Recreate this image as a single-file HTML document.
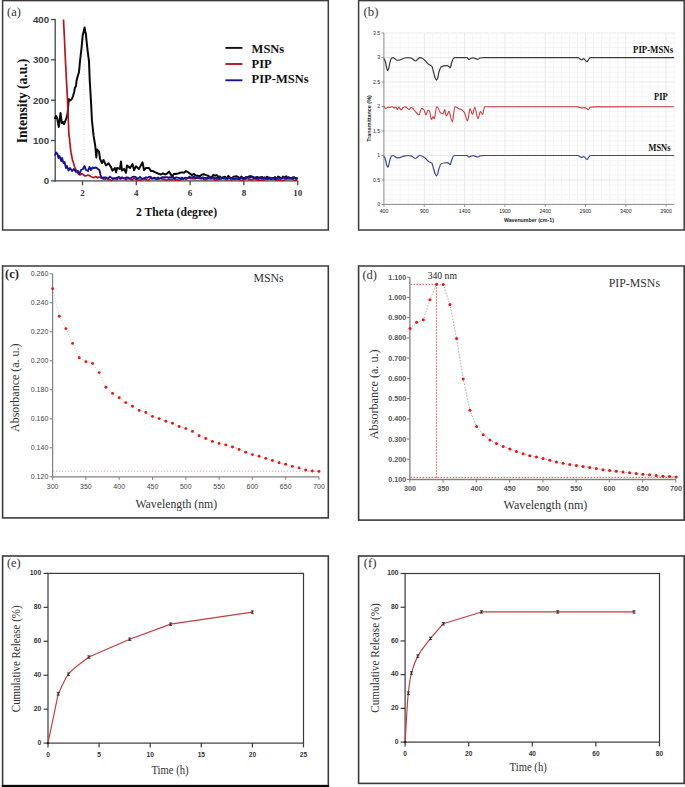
<!DOCTYPE html>
<html><head><meta charset="utf-8"><title>Figure</title>
<style>
html,body{margin:0;padding:0;background:#fff;width:685px;height:787px;overflow:hidden;}
svg{display:block;font-family:"Liberation Serif",serif;}
</style></head><body>
<svg width="685" height="787" viewBox="0 0 685 787">
<rect width="685" height="787" fill="#fff"/>
<rect x="2.6" y="0.6" width="325.7" height="229.4" fill="none" stroke="#3a3a3a" stroke-width="1.5"/>
<rect x="358.6" y="0.6" width="325.6" height="229.4" fill="none" stroke="#3a3a3a" stroke-width="1.5"/>
<rect x="2.6" y="266" width="325.7" height="251.9" fill="none" stroke="#3a3a3a" stroke-width="1.6"/>
<rect x="358.6" y="266" width="325.6" height="254.1" fill="none" stroke="#3a3a3a" stroke-width="1.6"/>
<rect x="2.6" y="556" width="325.7" height="229.6" fill="none" stroke="#3a3a3a" stroke-width="1.6"/>
<rect x="1.8" y="785" width="327.3" height="2" fill="#0a0a0a"/>
<rect x="358.6" y="556" width="325.6" height="227.4" fill="none" stroke="#3a3a3a" stroke-width="1.6"/>
<line x1="3.4" y1="266" x2="327.5" y2="266" stroke="#6e6e6e" stroke-width="1.6" />
<line x1="359.4" y1="266" x2="683.4" y2="266" stroke="#6e6e6e" stroke-width="1.6" />
<text x="7" y="16.1" font-family="&quot;Liberation Serif&quot;, serif" font-size="12.5" font-weight="normal" fill="#333" text-anchor="start" >(a)</text>
<line x1="55.2" y1="19" x2="55.2" y2="181.5" stroke="#444" stroke-width="1.3" />
<line x1="54.6" y1="180.9" x2="297.6" y2="180.9" stroke="#444" stroke-width="1.3" />
<line x1="50.9" y1="180.9" x2="55.2" y2="180.9" stroke="#444" stroke-width="1.3" />
<text x="49.1" y="184.2" font-family="&quot;Liberation Sans&quot;, sans-serif" font-size="9.7" font-weight="bold" fill="#3c3c3c" text-anchor="end" >0</text>
<line x1="50.9" y1="140.55" x2="55.2" y2="140.55" stroke="#444" stroke-width="1.3" />
<text x="49.1" y="143.85" font-family="&quot;Liberation Sans&quot;, sans-serif" font-size="9.7" font-weight="bold" fill="#3c3c3c" text-anchor="end" >100</text>
<line x1="50.9" y1="100.2" x2="55.2" y2="100.2" stroke="#444" stroke-width="1.3" />
<text x="49.1" y="103.5" font-family="&quot;Liberation Sans&quot;, sans-serif" font-size="9.7" font-weight="bold" fill="#3c3c3c" text-anchor="end" >200</text>
<line x1="50.9" y1="59.85" x2="55.2" y2="59.85" stroke="#444" stroke-width="1.3" />
<text x="49.1" y="63.15" font-family="&quot;Liberation Sans&quot;, sans-serif" font-size="9.7" font-weight="bold" fill="#3c3c3c" text-anchor="end" >300</text>
<line x1="50.9" y1="19.5" x2="55.2" y2="19.5" stroke="#444" stroke-width="1.3" />
<text x="49.1" y="22.8" font-family="&quot;Liberation Sans&quot;, sans-serif" font-size="9.7" font-weight="bold" fill="#3c3c3c" text-anchor="end" >400</text>
<line x1="82.5" y1="180.9" x2="82.5" y2="185.2" stroke="#444" stroke-width="1.3" />
<text x="82.5" y="196" font-family="&quot;Liberation Serif&quot;, serif" font-size="9" font-weight="bold" fill="#333" text-anchor="middle" >2</text>
<line x1="136.3" y1="180.9" x2="136.3" y2="185.2" stroke="#444" stroke-width="1.3" />
<text x="136.3" y="196" font-family="&quot;Liberation Serif&quot;, serif" font-size="9" font-weight="bold" fill="#333" text-anchor="middle" >4</text>
<line x1="190.1" y1="180.9" x2="190.1" y2="185.2" stroke="#444" stroke-width="1.3" />
<text x="190.1" y="196" font-family="&quot;Liberation Serif&quot;, serif" font-size="9" font-weight="bold" fill="#333" text-anchor="middle" >6</text>
<line x1="243.9" y1="180.9" x2="243.9" y2="185.2" stroke="#444" stroke-width="1.3" />
<text x="243.9" y="196" font-family="&quot;Liberation Serif&quot;, serif" font-size="9" font-weight="bold" fill="#333" text-anchor="middle" >8</text>
<line x1="297.7" y1="180.9" x2="297.7" y2="185.2" stroke="#444" stroke-width="1.3" />
<text x="297.7" y="196" font-family="&quot;Liberation Serif&quot;, serif" font-size="9" font-weight="bold" fill="#333" text-anchor="middle" >10</text>
<line x1="84.2" y1="19" x2="84.2" y2="180" stroke="#c4cae6" stroke-width="0.7" stroke-dasharray="1,1.5"/>
<polyline points="55,119 56,116 57,117.5 58.8,127 60.5,113 61.8,123 63,122 64,124 65.3,121 66.6,117.5 67.5,114 68.2,106 68.8,99 70,100.5 71.9,99 73,96 74.2,92 74.8,88 76,86 76.5,81 77.8,76 79,72 80,61.4 81.6,47.4 82.7,35.5 83.8,31 84.6,27.4 85.3,32 85.9,33.9 86.5,40.4 87.6,50.6 89,61.4 89.7,79.8 90.8,98.2 92,121 93.6,135.9 95.2,145.5 96.3,157.5 97,149.6 99,151.4 100,158.8 102,163.2 103.5,160 106,165.4 108.5,163.2 111,167.1 112.5,170.6 115,168 116,172.4 117,168 120,168.9 121,161.5 122,170.6 124,168.9 126,172.8 127,165.4 130,168 132.5,164 134,170.2 136,166.3 139,168.9 142.5,162.3 144,170.2 146,168 149,168 151,171.1 153,171.09 155,172.2 158,173.5 161,174.5 163,173.38 165,174.5 167,173.53 169,171.6 172,176.3 174,173.78 176,174 178,173.51 180,172.8 182,172.37 184,172.8 186,171.09 188,172.2 190,173.67 192,175.1 194,173.92 196,175.7 198,175.79 200,176.3 202,174.52 204,174.19 206,175.1 208,175.76 210,176.9 211.67,177.55 213.33,174.9 215,175.7 216.67,175.11 218.33,176.71 220,176.6 221.67,178.18 223.33,177.15 225,176.72 226.67,178.72 228.33,175.9 230,177.5 231.61,178.65 233.21,176.84 234.82,176.38 236.43,176.31 238.04,176.92 239.64,178.55 241.25,176.53 242.86,177.82 244.46,178.01 246.07,177.16 247.68,177.73 249.29,176.19 250.89,176.18 252.5,176.66 254.11,178.18 255.71,177.38 257.32,177.03 258.93,177.9 260.54,177.49 262.14,177 263.75,178.59 265.36,178.29 266.96,176.85 268.57,177.91 270.18,177.76 271.79,178.89 273.39,178.43 275,177.02 276.61,179.24 278.21,176.49 279.82,177.46 281.43,178.55 283.04,176.62 284.64,177.71 286.25,176.28 287.86,178.3 289.46,178.61 291.07,178.01 292.68,178.98 294.29,177.19 295.89,178.42 297.5,177.8" fill="none" stroke="#0a0a0a" stroke-width="2" stroke-linejoin="round"/>
<polyline points="63.5,19.5 64.5,40 65.5,62 66.5,82 67.3,96 68,112 68.9,135 69.5,138.5 70.2,146 71,152.7 72.5,160 73.5,163 74.5,166.5 76,170 77,172 78,173.5 80,175 82,173.5 83.5,174.98 85,176 86.5,175.69 88,175 90,175.89 92,177 94,177.57 96,176.5 97.5,177.82 99,177 100.5,177.54 102,178.2 103.5,179.09 105,179.2 106.5,178.15 108.01,179.69 109.51,179.56 111.02,180.3 112.52,179.98 114.02,178.69 115.53,178.94 117.03,179.62 118.54,178.07 120.04,179.12 121.54,178.42 123.05,178.3 124.55,178.16 126.05,179.87 127.56,178.33 129.06,178.62 130.57,178.96 132.07,180.12 133.57,178.22 135.08,179.11 136.58,179.35 138.09,180.15 139.59,180 141.09,180.11 142.6,178.71 144.1,179.04 145.61,178.9 147.11,180.17 148.61,180.3 150.12,178.41 151.62,178.47 153.12,178.61 154.63,178.61 156.13,179.22 157.64,179.47 159.14,178.69 160.64,178.07 162.15,179.06 163.65,178.95 165.16,179.42 166.66,180.3 168.16,179.72 169.67,179.3 171.17,179.55 172.68,179.69 174.18,178.2 175.68,180.23 177.19,179.95 178.69,180.18 180.2,179.99 181.7,179.02 183.2,179.04 184.71,178.33 186.21,179.61 187.71,178.24 189.22,178.25 190.72,178.59 192.23,178.48 193.73,178.91 195.23,178.22 196.74,178.1 198.24,178.46 199.75,178.34 201.25,178.97 202.75,178.16 204.26,180.2 205.76,179.58 207.27,178.46 208.77,178.71 210.27,178.94 211.78,178.98 213.28,178.41 214.79,180.15 216.29,180.3 217.79,179.24 219.3,179.28 220.8,178.33 222.3,178.37 223.81,178.95 225.31,178.76 226.82,180.12 228.32,178.52 229.82,178.19 231.33,180.3 232.83,179.4 234.34,178.49 235.84,179.44 237.34,178.2 238.85,179.41 240.35,180.3 241.86,180.21 243.36,179.81 244.86,178.77 246.37,179.03 247.87,178.55 249.38,180 250.88,179.43 252.38,180.02 253.89,178.95 255.39,178.69 256.89,180.11 258.4,180.3 259.9,180.21 261.41,180.1 262.91,180.13 264.41,179.94 265.92,178.71 267.42,179.41 268.93,179.02 270.43,178.24 271.93,178.24 273.44,178.85 274.94,178.8 276.45,179.84 277.95,180.3 279.45,179.25 280.96,180.3 282.46,180.3 283.96,180.3 285.47,179.06 286.97,178.72 288.48,178.74 289.98,178.66 291.48,178.68 292.99,179.69 294.49,180.3 296,180.22 297.5,179.4" fill="none" stroke="#b8141c" stroke-width="1.7" stroke-linejoin="round"/>
<polyline points="55,155.5 56,152.5 57.5,154 58.5,158 59.5,156 61.2,161 62,158 63.5,163 64.5,162 66,168 67,166 68.5,170.5 70,168 72,171 74,169 76,172 78,171 79.4,174 81,170 83,169 84.5,166 86,170 88,171 89.5,167 91,170 92.5,167.5 94,168 96,167.5 98,169 99.5,170 100.5,175 101.7,178 104,177.5 105.5,177.46 107,177.85 108.5,178.18 110,176.61 111.5,177.88 113,178.43 114.5,178.16 116,178.09 117.5,177.5 119,176.85 120.5,178.2 122,177.2 123.5,178.23 125,178.61 126.5,177.35 128,177.37 129.5,178.58 131,178.09 132.5,176.88 134,176.79 135.5,176.85 137,178.51 138.5,178.3 140,176.85 141.5,178.35 143,178.7 144.5,177.99 146,177.32 147.5,177.76 149,176.85 150.5,176.6 152,178.71 153.5,178.01 155,177.74 156.5,178.64 158,177.55 159.5,178.52 161,178.42 162.5,177.08 164,177.17 165.5,177.27 167,177.16 168.5,177.92 170,177.21 171.5,177.57 173,176.94 174.5,178.66 176,177.44 177.5,177.67 179,177.95 180.5,178.67 182,177.61 183.5,178.71 185,177.8 186.5,177.87 188,177.86 189.5,176.75 191,177.68 192.5,177.12 194,176.73 195.5,178.49 197,177.12 198.5,177.78 200,178.34 201.5,177.98 203,177.48 204.5,177.9 206,177.99 207.5,178.5 209,177.01 210.5,178.02 212,177.34 213.5,177.41 215,178.5 216.5,177.92 218,178.05 219.5,178.49 221,178.83 222.5,177.8 224,178.18 225.5,177.95 227,177.97 228.5,178.37 230,177.85 231.5,178.03 233,177.92 234.5,178.94 236,178.42 237.5,178.81 239,178.96 240.5,177.46 242,178.13 243.5,178.98 245,178.76 246.5,177.22 248,177.19 249.5,177.9 251,177.09 252.5,177.47 254,177.1 255.5,178.42 257,178.68 258.5,178.93 260,177.3 261.5,178.55 263,178.43 264.5,177.3 266,178.93 267.5,179.12 269,177.48 270.5,179.1 272,177.88 273.5,178.09 275,179.2 276.5,178.86 278,177.38 279.5,177.98 281,178.17 282.5,177.79 284,177.48 285.5,177.76 287,178.65 288.5,177.11 290,178.29 291.5,178.05 293,177.12 294.5,177.82 296,178.47 297.5,178.2" fill="none" stroke="#14149a" stroke-width="1.9" stroke-linejoin="round"/>
<line x1="225.4" y1="47.9" x2="242.4" y2="47.9" stroke="#111" stroke-width="1.9" />
<text x="251.6" y="53.3" font-family="&quot;Liberation Serif&quot;, serif" font-size="12.5" font-weight="bold" fill="#111" text-anchor="start" >MSNs</text>
<line x1="225.4" y1="64" x2="242.4" y2="64" stroke="#b8141c" stroke-width="1.9" />
<text x="251.6" y="67.9" font-family="&quot;Liberation Serif&quot;, serif" font-size="12.5" font-weight="bold" fill="#111" text-anchor="start" >PIP</text>
<line x1="225.4" y1="80.3" x2="242.4" y2="80.3" stroke="#14149a" stroke-width="1.9" />
<text x="251.6" y="83.3" font-family="&quot;Liberation Serif&quot;, serif" font-size="12.5" font-weight="bold" fill="#111" text-anchor="start" >PIP-MSNs</text>
<text transform="translate(27.3,101.1) rotate(-90)" font-family="&quot;Liberation Serif&quot;, serif" font-size="14" font-weight="bold" fill="#111" text-anchor="middle" textLength="84.5" lengthAdjust="spacingAndGlyphs">Intensity (a.u.)</text>
<text x="136.1" y="215.7" font-family="&quot;Liberation Serif&quot;, serif" font-size="11.8" font-weight="bold" fill="#111" text-anchor="start" textLength="81" lengthAdjust="spacingAndGlyphs" >2 Theta (degree)</text>
<text x="363.5" y="16.3" font-family="&quot;Liberation Serif&quot;, serif" font-size="12.8" font-weight="normal" fill="#333" text-anchor="start" >(b)</text>
<path d="M392.06 33.1V204.5M400.12 33.1V204.5M408.18 33.1V204.5M416.24 33.1V204.5M432.36 33.1V204.5M440.42 33.1V204.5M448.48 33.1V204.5M456.54 33.1V204.5M472.66 33.1V204.5M480.72 33.1V204.5M488.78 33.1V204.5M496.84 33.1V204.5M512.96 33.1V204.5M521.02 33.1V204.5M529.08 33.1V204.5M537.14 33.1V204.5M553.26 33.1V204.5M561.32 33.1V204.5M569.38 33.1V204.5M577.44 33.1V204.5M593.56 33.1V204.5M601.62 33.1V204.5M609.68 33.1V204.5M617.74 33.1V204.5M633.86 33.1V204.5M641.92 33.1V204.5M649.98 33.1V204.5M658.04 33.1V204.5M674.16 33.1V204.5M384 199.6H674.2M384 194.7H674.2M384 189.8H674.2M384 184.9H674.2M384 175.1H674.2M384 170.2H674.2M384 165.3H674.2M384 160.4H674.2M384 150.6H674.2M384 145.7H674.2M384 140.8H674.2M384 135.9H674.2M384 126.1H674.2M384 121.2H674.2M384 116.3H674.2M384 111.4H674.2M384 101.6H674.2M384 96.7H674.2M384 91.8H674.2M384 86.9H674.2M384 77.1H674.2M384 72.2H674.2M384 67.3H674.2M384 62.4H674.2M384 52.6H674.2M384 47.7H674.2M384 42.8H674.2M384 37.9H674.2" stroke="#f2f2f2" stroke-width="0.8" fill="none"/>
<path d="M424.3 33.1V204.5M464.6 33.1V204.5M504.9 33.1V204.5M545.2 33.1V204.5M585.5 33.1V204.5M625.8 33.1V204.5M666.1 33.1V204.5M384 180H674.2M384 155.5H674.2M384 131H674.2M384 106.5H674.2M384 82H674.2M384 57.5H674.2M384 33H674.2" stroke="#e6e6e6" stroke-width="0.9" fill="none"/>
<line x1="383.9" y1="33.1" x2="383.9" y2="204.5" stroke="#8a8a8a" stroke-width="1" />
<line x1="384" y1="204.4" x2="674.2" y2="204.4" stroke="#8a8a8a" stroke-width="1" />
<line x1="381.5" y1="204.5" x2="384" y2="204.5" stroke="#808080" stroke-width="0.9" />
<text x="380.2" y="206.3" font-family="&quot;Liberation Sans&quot;, sans-serif" font-size="5.2" font-weight="normal" fill="#1a1a1a" text-anchor="end" >0</text>
<line x1="381.5" y1="180" x2="384" y2="180" stroke="#808080" stroke-width="0.9" />
<text x="380.2" y="181.8" font-family="&quot;Liberation Sans&quot;, sans-serif" font-size="5.2" font-weight="normal" fill="#1a1a1a" text-anchor="end" >0.5</text>
<line x1="381.5" y1="155.5" x2="384" y2="155.5" stroke="#808080" stroke-width="0.9" />
<text x="380.2" y="157.3" font-family="&quot;Liberation Sans&quot;, sans-serif" font-size="5.2" font-weight="normal" fill="#1a1a1a" text-anchor="end" >1</text>
<line x1="381.5" y1="131" x2="384" y2="131" stroke="#808080" stroke-width="0.9" />
<text x="380.2" y="132.8" font-family="&quot;Liberation Sans&quot;, sans-serif" font-size="5.2" font-weight="normal" fill="#1a1a1a" text-anchor="end" >1.5</text>
<line x1="381.5" y1="106.5" x2="384" y2="106.5" stroke="#808080" stroke-width="0.9" />
<text x="380.2" y="108.3" font-family="&quot;Liberation Sans&quot;, sans-serif" font-size="5.2" font-weight="normal" fill="#1a1a1a" text-anchor="end" >2</text>
<line x1="381.5" y1="82" x2="384" y2="82" stroke="#808080" stroke-width="0.9" />
<text x="380.2" y="83.8" font-family="&quot;Liberation Sans&quot;, sans-serif" font-size="5.2" font-weight="normal" fill="#1a1a1a" text-anchor="end" >2.5</text>
<line x1="381.5" y1="57.5" x2="384" y2="57.5" stroke="#808080" stroke-width="0.9" />
<text x="380.2" y="59.3" font-family="&quot;Liberation Sans&quot;, sans-serif" font-size="5.2" font-weight="normal" fill="#1a1a1a" text-anchor="end" >3</text>
<line x1="381.5" y1="33" x2="384" y2="33" stroke="#808080" stroke-width="0.9" />
<text x="380.2" y="34.8" font-family="&quot;Liberation Sans&quot;, sans-serif" font-size="5.2" font-weight="normal" fill="#1a1a1a" text-anchor="end" >3.5</text>
<line x1="384" y1="204.5" x2="384" y2="206.7" stroke="#808080" stroke-width="0.9" />
<text x="384" y="213.2" font-family="&quot;Liberation Sans&quot;, sans-serif" font-size="5.2" font-weight="normal" fill="#1a1a1a" text-anchor="middle" >400</text>
<line x1="424.3" y1="204.5" x2="424.3" y2="206.7" stroke="#808080" stroke-width="0.9" />
<text x="424.3" y="213.2" font-family="&quot;Liberation Sans&quot;, sans-serif" font-size="5.2" font-weight="normal" fill="#1a1a1a" text-anchor="middle" >900</text>
<line x1="464.6" y1="204.5" x2="464.6" y2="206.7" stroke="#808080" stroke-width="0.9" />
<text x="464.6" y="213.2" font-family="&quot;Liberation Sans&quot;, sans-serif" font-size="5.2" font-weight="normal" fill="#1a1a1a" text-anchor="middle" >1400</text>
<line x1="504.9" y1="204.5" x2="504.9" y2="206.7" stroke="#808080" stroke-width="0.9" />
<text x="504.9" y="213.2" font-family="&quot;Liberation Sans&quot;, sans-serif" font-size="5.2" font-weight="normal" fill="#1a1a1a" text-anchor="middle" >1900</text>
<line x1="545.2" y1="204.5" x2="545.2" y2="206.7" stroke="#808080" stroke-width="0.9" />
<text x="545.2" y="213.2" font-family="&quot;Liberation Sans&quot;, sans-serif" font-size="5.2" font-weight="normal" fill="#1a1a1a" text-anchor="middle" >2400</text>
<line x1="585.5" y1="204.5" x2="585.5" y2="206.7" stroke="#808080" stroke-width="0.9" />
<text x="585.5" y="213.2" font-family="&quot;Liberation Sans&quot;, sans-serif" font-size="5.2" font-weight="normal" fill="#1a1a1a" text-anchor="middle" >2900</text>
<line x1="625.8" y1="204.5" x2="625.8" y2="206.7" stroke="#808080" stroke-width="0.9" />
<text x="625.8" y="213.2" font-family="&quot;Liberation Sans&quot;, sans-serif" font-size="5.2" font-weight="normal" fill="#1a1a1a" text-anchor="middle" >3400</text>
<line x1="666.1" y1="204.5" x2="666.1" y2="206.7" stroke="#808080" stroke-width="0.9" />
<text x="666.1" y="213.2" font-family="&quot;Liberation Sans&quot;, sans-serif" font-size="5.2" font-weight="normal" fill="#1a1a1a" text-anchor="middle" >3900</text>
<text x="528.9" y="221.8" font-family="&quot;Liberation Sans&quot;, sans-serif" font-size="5.6" font-weight="bold" fill="#1a1a1a" text-anchor="middle" textLength="50" lengthAdjust="spacingAndGlyphs" >Wavenumber (cm-1)</text>
<text transform="translate(371.2,118.5) rotate(-90)" font-family="&quot;Liberation Sans&quot;, sans-serif" font-size="5.6" font-weight="bold" fill="#1a1a1a" text-anchor="middle" textLength="46.5" lengthAdjust="spacingAndGlyphs">Transmittance (%)</text>
<path d="M384 58.58C384.5 59.75 385 60.47 385.5 62.1C385.87 63.29 386.23 66.24 386.6 67.6C386.93 68.84 387.27 70.57 387.6 70.57C387.93 70.57 388.27 69.57 388.6 68.7C389.07 67.48 389.53 63.66 390 62.1C390.5 60.43 391 58.57 391.5 58.25C392 57.93 392.5 57.7 393 57.7C393.67 57.7 394.33 58.39 395 58.8C395.67 59.21 396.33 60.23 397 60.23C397.67 60.23 398.33 60.18 399 60.12C400 60.03 401 59.37 402 59.02C403 58.67 404 58.2 405 58.03C406 57.87 407 57.7 408 57.7C409 57.7 410 57.83 411 58.03C411.67 58.16 412.33 58.91 413 59.35C413.83 59.9 414.67 61 415.5 61C416.17 61 416.83 59.84 417.5 59.35C418.33 58.74 419.17 57.7 420 57.7C420.67 57.7 421.33 57.99 422 58.25C423 58.64 424 59.57 425 60.45C426 61.33 427 62.93 428 63.75C428.83 64.43 429.67 64.82 430.5 65.4C431 65.75 431.5 65.89 432 66.5C432.5 67.11 433 70.17 433.5 72C434 73.83 434.5 76.24 435 77.5C435.43 78.59 435.87 80.03 436.3 80.03C436.7 80.03 437.1 79.33 437.5 78.6C438 77.68 438.5 73.61 439 72C439.67 69.86 440.33 67.5 441 67.05C442 66.38 443 66.12 444 65.95C445 65.78 446 65.62 447 65.62C447.67 65.62 448.33 66.08 449 66.5C449.43 66.77 449.87 67.82 450.3 67.82C450.7 67.82 451.1 64.43 451.5 63.2C452.17 61.15 452.83 58.66 453.5 58.25C454 57.94 454.5 57.7 455 57.7C459 57.7 463 57.7 467 57.7C467.67 57.7 468.33 59.35 469 59.35C469.67 59.35 470.33 58.56 471 58.36C471.67 58.16 472.33 57.92 473 57.92C474.67 57.92 476.33 59.35 478 59.35C478.67 59.35 479.33 58.14 480 58.03C481.33 57.82 482.67 57.7 484 57.7C515.33 57.7 546.67 57.7 578 57.7C578.67 57.7 579.33 58.57 580 58.9C580.63 59.21 581.27 59.7 581.9 59.7C582.43 59.7 582.97 58.7 583.5 58.7C584.1 58.7 584.7 59.59 585.3 60.1C585.87 60.58 586.43 61.7 587 61.7C587.6 61.7 588.2 59.96 588.8 59.3C589.37 58.68 589.93 57.7 590.5 57.7C618.4 57.7 646.3 57.7 674.2 57.7" fill="none" stroke="#3a3a3a" stroke-width="1.2" stroke-linejoin="round"/>
<path d="M384 156.3C384.5 157.37 385 158.02 385.5 159.5C385.87 160.58 386.23 163.26 386.6 164.5C386.93 165.62 387.27 167.2 387.6 167.2C387.93 167.2 388.27 166.29 388.6 165.5C389.07 164.39 389.53 160.91 390 159.5C390.5 157.98 391 156.29 391.5 156C392 155.71 392.5 155.5 393 155.5C393.67 155.5 394.33 156.12 395 156.5C395.67 156.88 396.33 157.8 397 157.8C397.67 157.8 398.33 157.76 399 157.7C400 157.62 401 157.02 402 156.7C403 156.38 404 155.95 405 155.8C406 155.65 407 155.5 408 155.5C409 155.5 410 155.62 411 155.8C411.67 155.92 412.33 156.6 413 157C413.83 157.5 414.67 158.5 415.5 158.5C416.17 158.5 416.83 157.45 417.5 157C418.33 156.44 419.17 155.5 420 155.5C420.67 155.5 421.33 155.76 422 156C423 156.35 424 157.2 425 158C426 158.8 427 160.26 428 161C428.83 161.62 429.67 161.97 430.5 162.5C431 162.82 431.5 162.94 432 163.5C432.5 164.06 433 166.83 433.5 168.5C434 170.17 434.5 172.35 435 173.5C435.43 174.49 435.87 175.8 436.3 175.8C436.7 175.8 437.1 175.17 437.5 174.5C438 173.67 438.5 169.96 439 168.5C439.67 166.55 440.33 164.41 441 164C442 163.39 443 163.15 444 163C445 162.85 446 162.7 447 162.7C447.67 162.7 448.33 163.12 449 163.5C449.43 163.75 449.87 164.7 450.3 164.7C450.7 164.7 451.1 161.62 451.5 160.5C452.17 158.64 452.83 156.37 453.5 156C454 155.72 454.5 155.5 455 155.5C459 155.5 463 155.5 467 155.5C467.67 155.5 468.33 157 469 157C469.67 157 470.33 156.28 471 156.1C471.67 155.92 472.33 155.7 473 155.7C474.67 155.7 476.33 157 478 157C478.67 157 479.33 155.9 480 155.8C481.33 155.61 482.67 155.5 484 155.5C515.33 155.5 546.67 155.5 578 155.5C578.67 155.5 579.33 156.37 580 156.7C580.63 157.01 581.27 157.5 581.9 157.5C582.43 157.5 582.97 156.5 583.5 156.5C584.1 156.5 584.7 157.39 585.3 157.9C585.87 158.38 586.43 159.5 587 159.5C587.6 159.5 588.2 157.76 588.8 157.1C589.37 156.48 589.93 155.5 590.5 155.5C618.4 155.5 646.3 155.5 674.2 155.5" fill="none" stroke="#3c4c94" stroke-width="1.2" stroke-linejoin="round"/>
<path d="M384 106.7C384.67 107.3 385.33 108.5 386 108.5C386.67 108.5 387.33 107 388 107C388.67 107 389.33 107.5 390 107.5C390.67 107.5 391.33 106.5 392 106.5C392.67 106.5 393.33 108 394 108C394.67 108 395.33 107 396 107C396.5 107 397 109.5 397.5 109.5C398 109.5 398.5 107 399 107C399.67 107 400.33 110 401 110C401.67 110 402.33 107.9 403 107.5C403.67 107.1 404.33 106.7 405 106.7C405.67 106.7 406.33 107.54 407 108C407.67 108.46 408.33 109.5 409 109.5C409.67 109.5 410.33 107.5 411 107.5C411.67 107.5 412.33 107.97 413 108.5C413.33 108.76 413.67 109.56 414 110C414.73 110.96 415.47 111.79 416.2 112.5C417.17 113.43 418.13 114.9 419.1 114.9C419.9 114.9 420.7 108.4 421.5 108.4C422.27 108.4 423.03 108.95 423.8 109.6C424.57 110.25 425.33 114.9 426.1 114.9C426.7 114.9 427.3 110.2 427.9 110.2C428.47 110.2 429.03 110.71 429.6 111.4C430.2 112.13 430.8 119.5 431.4 119.5C431.97 119.5 432.53 116.6 433.1 116.6C433.5 116.6 433.9 118.9 434.3 118.9C435.07 118.9 435.83 106.7 436.6 106.7C437.07 106.7 437.53 107.44 438 108C438.9 109.08 439.8 112.71 440.7 113.1C441.5 113.45 442.3 113.7 443.1 113.7C443.67 113.7 444.23 109.6 444.8 109.6C445.2 109.6 445.6 115.9 446 115.9C446.4 115.9 446.8 115.36 447.2 114.9C447.77 114.24 448.33 111.4 448.9 111.4C450.07 111.4 451.23 121.9 452.4 121.9C453.2 121.9 454 106.7 454.8 106.7C455.53 106.7 456.27 107.16 457 107.5C457.8 107.87 458.6 108.74 459.4 109C459.83 109.14 460.27 109.16 460.7 109.3C461.9 109.7 463.1 110.77 464.3 112.3C465.4 113.7 466.5 121 467.6 121C468.4 121 469.2 108.6 470 108.6C470.83 108.6 471.67 114.5 472.5 114.5C473.27 114.5 474.03 107.2 474.8 107.2C475.87 107.2 476.93 118.8 478 118.8C478.8 118.8 479.6 111.5 480.4 111.5C481.1 111.5 481.8 114.5 482.5 114.5C483.23 114.5 483.97 106.8 484.7 106.8C485.47 106.8 486.23 106.8 487 106.8C501.33 106.8 515.67 106.8 530 106.8C545 106.8 560 106.8 575 106.8C576 106.8 577 106.84 578 106.9C579.3 106.97 580.6 107.9 581.9 107.9C582.6 107.9 583.3 107.6 584 107.6C584.83 107.6 585.67 107.93 586.5 108.3C587.1 108.56 587.7 109.9 588.3 109.9C588.87 109.9 589.43 107.4 590 107.3C591.67 107 593.33 106.91 595 106.9C621.4 106.72 647.8 106.77 674.2 106.7" fill="none" stroke="#d0383c" stroke-width="1.1" stroke-linejoin="round"/>
<text x="673.1" y="53.3" font-family="&quot;Liberation Serif&quot;, serif" font-size="9.6" font-weight="bold" fill="#111" text-anchor="end" textLength="40.1" lengthAdjust="spacingAndGlyphs" >PIP-MSNs</text>
<text x="667.7" y="100.4" font-family="&quot;Liberation Serif&quot;, serif" font-size="9.6" font-weight="bold" fill="#111" text-anchor="end" textLength="13.7" lengthAdjust="spacingAndGlyphs" >PIP</text>
<text x="670.4" y="150.9" font-family="&quot;Liberation Serif&quot;, serif" font-size="9.6" font-weight="bold" fill="#111" text-anchor="end" textLength="21.9" lengthAdjust="spacingAndGlyphs" >MSNs</text>
<text x="5" y="278" font-family="&quot;Liberation Serif&quot;, serif" font-size="12.5" font-weight="bold" fill="#222" text-anchor="start" >(c)</text>
<line x1="52.6" y1="273.8" x2="52.6" y2="477.3" stroke="#808080" stroke-width="1.2" />
<line x1="52.1" y1="476.8" x2="319" y2="476.8" stroke="#808080" stroke-width="1.2" />
<line x1="49.6" y1="476.8" x2="52.6" y2="476.8" stroke="#808080" stroke-width="1" />
<text x="48.3" y="479.3" font-family="&quot;Liberation Sans&quot;, sans-serif" font-size="7" font-weight="normal" fill="#444" text-anchor="end" >0.120</text>
<line x1="49.6" y1="447.8" x2="52.6" y2="447.8" stroke="#808080" stroke-width="1" />
<text x="48.3" y="450.3" font-family="&quot;Liberation Sans&quot;, sans-serif" font-size="7" font-weight="normal" fill="#444" text-anchor="end" >0.140</text>
<line x1="49.6" y1="418.8" x2="52.6" y2="418.8" stroke="#808080" stroke-width="1" />
<text x="48.3" y="421.3" font-family="&quot;Liberation Sans&quot;, sans-serif" font-size="7" font-weight="normal" fill="#444" text-anchor="end" >0.160</text>
<line x1="49.6" y1="389.8" x2="52.6" y2="389.8" stroke="#808080" stroke-width="1" />
<text x="48.3" y="392.3" font-family="&quot;Liberation Sans&quot;, sans-serif" font-size="7" font-weight="normal" fill="#444" text-anchor="end" >0.180</text>
<line x1="49.6" y1="360.8" x2="52.6" y2="360.8" stroke="#808080" stroke-width="1" />
<text x="48.3" y="363.3" font-family="&quot;Liberation Sans&quot;, sans-serif" font-size="7" font-weight="normal" fill="#444" text-anchor="end" >0.200</text>
<line x1="49.6" y1="331.8" x2="52.6" y2="331.8" stroke="#808080" stroke-width="1" />
<text x="48.3" y="334.3" font-family="&quot;Liberation Sans&quot;, sans-serif" font-size="7" font-weight="normal" fill="#444" text-anchor="end" >0.220</text>
<line x1="49.6" y1="302.8" x2="52.6" y2="302.8" stroke="#808080" stroke-width="1" />
<text x="48.3" y="305.3" font-family="&quot;Liberation Sans&quot;, sans-serif" font-size="7" font-weight="normal" fill="#444" text-anchor="end" >0.240</text>
<line x1="49.6" y1="273.8" x2="52.6" y2="273.8" stroke="#808080" stroke-width="1" />
<text x="48.3" y="276.3" font-family="&quot;Liberation Sans&quot;, sans-serif" font-size="7" font-weight="normal" fill="#444" text-anchor="end" >0.260</text>
<line x1="52.6" y1="476.8" x2="52.6" y2="479.8" stroke="#808080" stroke-width="1" />
<text x="52.6" y="488.6" font-family="&quot;Liberation Sans&quot;, sans-serif" font-size="7" font-weight="normal" fill="#444" text-anchor="middle" >300</text>
<line x1="85.9" y1="476.8" x2="85.9" y2="479.8" stroke="#808080" stroke-width="1" />
<text x="85.9" y="488.6" font-family="&quot;Liberation Sans&quot;, sans-serif" font-size="7" font-weight="normal" fill="#444" text-anchor="middle" >350</text>
<line x1="119.2" y1="476.8" x2="119.2" y2="479.8" stroke="#808080" stroke-width="1" />
<text x="119.2" y="488.6" font-family="&quot;Liberation Sans&quot;, sans-serif" font-size="7" font-weight="normal" fill="#444" text-anchor="middle" >400</text>
<line x1="152.5" y1="476.8" x2="152.5" y2="479.8" stroke="#808080" stroke-width="1" />
<text x="152.5" y="488.6" font-family="&quot;Liberation Sans&quot;, sans-serif" font-size="7" font-weight="normal" fill="#444" text-anchor="middle" >450</text>
<line x1="185.8" y1="476.8" x2="185.8" y2="479.8" stroke="#808080" stroke-width="1" />
<text x="185.8" y="488.6" font-family="&quot;Liberation Sans&quot;, sans-serif" font-size="7" font-weight="normal" fill="#444" text-anchor="middle" >500</text>
<line x1="219.1" y1="476.8" x2="219.1" y2="479.8" stroke="#808080" stroke-width="1" />
<text x="219.1" y="488.6" font-family="&quot;Liberation Sans&quot;, sans-serif" font-size="7" font-weight="normal" fill="#444" text-anchor="middle" >550</text>
<line x1="252.4" y1="476.8" x2="252.4" y2="479.8" stroke="#808080" stroke-width="1" />
<text x="252.4" y="488.6" font-family="&quot;Liberation Sans&quot;, sans-serif" font-size="7" font-weight="normal" fill="#444" text-anchor="middle" >600</text>
<line x1="285.7" y1="476.8" x2="285.7" y2="479.8" stroke="#808080" stroke-width="1" />
<text x="285.7" y="488.6" font-family="&quot;Liberation Sans&quot;, sans-serif" font-size="7" font-weight="normal" fill="#444" text-anchor="middle" >650</text>
<line x1="319" y1="476.8" x2="319" y2="479.8" stroke="#808080" stroke-width="1" />
<text x="319" y="488.6" font-family="&quot;Liberation Sans&quot;, sans-serif" font-size="7" font-weight="normal" fill="#444" text-anchor="middle" >700</text>
<text x="135.4" y="507.7" font-family="&quot;Liberation Serif&quot;, serif" font-size="13.4" font-weight="normal" fill="#333" text-anchor="start" textLength="81.8" lengthAdjust="spacingAndGlyphs" >Wavelength (nm)</text>
<text transform="translate(18.9,387.7) rotate(-90)" font-family="&quot;Liberation Serif&quot;, serif" font-size="13.2" font-weight="normal" fill="#333" text-anchor="middle" textLength="88.6" lengthAdjust="spacingAndGlyphs">Absorbance (a. u.)</text>
<text x="253.4" y="281.5" font-family="&quot;Liberation Serif&quot;, serif" font-size="12" font-weight="normal" fill="#333" text-anchor="start" textLength="30.3" lengthAdjust="spacingAndGlyphs" >MSNs</text>
<line x1="53" y1="471.2" x2="319" y2="471.2" stroke="#f08080" stroke-width="0.8" stroke-dasharray="1.2,1.8"/>
<polyline points="52.6,288.8 59.26,316.2 65.92,328.6 72.58,343.4 79.24,357.7 85.9,361.7 92.56,363.4 99.22,372.6 105.88,387.3 112.54,393.4 119.2,397.7 125.86,402.6 132.52,406.3 139.18,410.4 145.84,412.4 152.5,416.4 159.16,418.6 165.82,421.2 172.48,423.2 179.14,426.5 185.8,428.6 192.46,431.4 199.12,435.7 205.78,438.5 212.44,441.4 219.1,443.4 225.76,444.9 232.42,447 239.08,449.5 245.74,452.3 252.4,454.6 259.06,456.3 265.72,458.4 272.38,460.4 279.04,462.8 285.7,464.2 292.36,466.4 299.02,467.9 305.68,470 312.34,471 319,471.4" fill="none" stroke="#b4b4b4" stroke-width="0.6" stroke-dasharray="1.5,1.5"/>
<g fill="#ee1111"><circle cx="52.6" cy="288.8" r="1.45"/><circle cx="59.26" cy="316.2" r="1.45"/><circle cx="65.92" cy="328.6" r="1.45"/><circle cx="72.58" cy="343.4" r="1.45"/><circle cx="79.24" cy="357.7" r="1.45"/><circle cx="85.9" cy="361.7" r="1.45"/><circle cx="92.56" cy="363.4" r="1.45"/><circle cx="99.22" cy="372.6" r="1.45"/><circle cx="105.88" cy="387.3" r="1.45"/><circle cx="112.54" cy="393.4" r="1.45"/><circle cx="119.2" cy="397.7" r="1.45"/><circle cx="125.86" cy="402.6" r="1.45"/><circle cx="132.52" cy="406.3" r="1.45"/><circle cx="139.18" cy="410.4" r="1.45"/><circle cx="145.84" cy="412.4" r="1.45"/><circle cx="152.5" cy="416.4" r="1.45"/><circle cx="159.16" cy="418.6" r="1.45"/><circle cx="165.82" cy="421.2" r="1.45"/><circle cx="172.48" cy="423.2" r="1.45"/><circle cx="179.14" cy="426.5" r="1.45"/><circle cx="185.8" cy="428.6" r="1.45"/><circle cx="192.46" cy="431.4" r="1.45"/><circle cx="199.12" cy="435.7" r="1.45"/><circle cx="205.78" cy="438.5" r="1.45"/><circle cx="212.44" cy="441.4" r="1.45"/><circle cx="219.1" cy="443.4" r="1.45"/><circle cx="225.76" cy="444.9" r="1.45"/><circle cx="232.42" cy="447" r="1.45"/><circle cx="239.08" cy="449.5" r="1.45"/><circle cx="245.74" cy="452.3" r="1.45"/><circle cx="252.4" cy="454.6" r="1.45"/><circle cx="259.06" cy="456.3" r="1.45"/><circle cx="265.72" cy="458.4" r="1.45"/><circle cx="272.38" cy="460.4" r="1.45"/><circle cx="279.04" cy="462.8" r="1.45"/><circle cx="285.7" cy="464.2" r="1.45"/><circle cx="292.36" cy="466.4" r="1.45"/><circle cx="299.02" cy="467.9" r="1.45"/><circle cx="305.68" cy="470" r="1.45"/><circle cx="312.34" cy="471" r="1.45"/><circle cx="319" cy="471.4" r="1.45"/></g>
<text x="362.4" y="278.5" font-family="&quot;Liberation Serif&quot;, serif" font-size="12.5" font-weight="normal" fill="#333" text-anchor="start" >(d)</text>
<line x1="409.9" y1="277.2" x2="409.9" y2="480" stroke="#808080" stroke-width="1.3" />
<line x1="409.7" y1="479.5" x2="675.9" y2="479.5" stroke="#808080" stroke-width="1.3" />
<line x1="406.8" y1="479.5" x2="409.9" y2="479.5" stroke="#808080" stroke-width="1" />
<text x="406.3" y="482" font-family="&quot;Liberation Sans&quot;, sans-serif" font-size="7.2" font-weight="bold" fill="#555" text-anchor="end" >0.100</text>
<line x1="406.8" y1="459.27" x2="409.9" y2="459.27" stroke="#808080" stroke-width="1" />
<text x="406.3" y="461.77" font-family="&quot;Liberation Sans&quot;, sans-serif" font-size="7.2" font-weight="bold" fill="#555" text-anchor="end" >0.200</text>
<line x1="406.8" y1="439.04" x2="409.9" y2="439.04" stroke="#808080" stroke-width="1" />
<text x="406.3" y="441.54" font-family="&quot;Liberation Sans&quot;, sans-serif" font-size="7.2" font-weight="bold" fill="#555" text-anchor="end" >0.300</text>
<line x1="406.8" y1="418.81" x2="409.9" y2="418.81" stroke="#808080" stroke-width="1" />
<text x="406.3" y="421.31" font-family="&quot;Liberation Sans&quot;, sans-serif" font-size="7.2" font-weight="bold" fill="#555" text-anchor="end" >0.400</text>
<line x1="406.8" y1="398.58" x2="409.9" y2="398.58" stroke="#808080" stroke-width="1" />
<text x="406.3" y="401.08" font-family="&quot;Liberation Sans&quot;, sans-serif" font-size="7.2" font-weight="bold" fill="#555" text-anchor="end" >0.500</text>
<line x1="406.8" y1="378.35" x2="409.9" y2="378.35" stroke="#808080" stroke-width="1" />
<text x="406.3" y="380.85" font-family="&quot;Liberation Sans&quot;, sans-serif" font-size="7.2" font-weight="bold" fill="#555" text-anchor="end" >0.600</text>
<line x1="406.8" y1="358.12" x2="409.9" y2="358.12" stroke="#808080" stroke-width="1" />
<text x="406.3" y="360.62" font-family="&quot;Liberation Sans&quot;, sans-serif" font-size="7.2" font-weight="bold" fill="#555" text-anchor="end" >0.700</text>
<line x1="406.8" y1="337.89" x2="409.9" y2="337.89" stroke="#808080" stroke-width="1" />
<text x="406.3" y="340.39" font-family="&quot;Liberation Sans&quot;, sans-serif" font-size="7.2" font-weight="bold" fill="#555" text-anchor="end" >0.800</text>
<line x1="406.8" y1="317.66" x2="409.9" y2="317.66" stroke="#808080" stroke-width="1" />
<text x="406.3" y="320.16" font-family="&quot;Liberation Sans&quot;, sans-serif" font-size="7.2" font-weight="bold" fill="#555" text-anchor="end" >0.900</text>
<line x1="406.8" y1="297.43" x2="409.9" y2="297.43" stroke="#808080" stroke-width="1" />
<text x="406.3" y="299.93" font-family="&quot;Liberation Sans&quot;, sans-serif" font-size="7.2" font-weight="bold" fill="#555" text-anchor="end" >1.000</text>
<line x1="406.8" y1="277.2" x2="409.9" y2="277.2" stroke="#808080" stroke-width="1" />
<text x="406.3" y="279.7" font-family="&quot;Liberation Sans&quot;, sans-serif" font-size="7.2" font-weight="bold" fill="#555" text-anchor="end" >1.100</text>
<line x1="409.9" y1="479.5" x2="409.9" y2="482.5" stroke="#808080" stroke-width="1" />
<text x="409.9" y="491" font-family="&quot;Liberation Sans&quot;, sans-serif" font-size="7.2" font-weight="bold" fill="#555" text-anchor="middle" >300</text>
<line x1="443.15" y1="479.5" x2="443.15" y2="482.5" stroke="#808080" stroke-width="1" />
<text x="443.15" y="491" font-family="&quot;Liberation Sans&quot;, sans-serif" font-size="7.2" font-weight="bold" fill="#555" text-anchor="middle" >350</text>
<line x1="476.4" y1="479.5" x2="476.4" y2="482.5" stroke="#808080" stroke-width="1" />
<text x="476.4" y="491" font-family="&quot;Liberation Sans&quot;, sans-serif" font-size="7.2" font-weight="bold" fill="#555" text-anchor="middle" >400</text>
<line x1="509.65" y1="479.5" x2="509.65" y2="482.5" stroke="#808080" stroke-width="1" />
<text x="509.65" y="491" font-family="&quot;Liberation Sans&quot;, sans-serif" font-size="7.2" font-weight="bold" fill="#555" text-anchor="middle" >450</text>
<line x1="542.9" y1="479.5" x2="542.9" y2="482.5" stroke="#808080" stroke-width="1" />
<text x="542.9" y="491" font-family="&quot;Liberation Sans&quot;, sans-serif" font-size="7.2" font-weight="bold" fill="#555" text-anchor="middle" >500</text>
<line x1="576.15" y1="479.5" x2="576.15" y2="482.5" stroke="#808080" stroke-width="1" />
<text x="576.15" y="491" font-family="&quot;Liberation Sans&quot;, sans-serif" font-size="7.2" font-weight="bold" fill="#555" text-anchor="middle" >550</text>
<line x1="609.4" y1="479.5" x2="609.4" y2="482.5" stroke="#808080" stroke-width="1" />
<text x="609.4" y="491" font-family="&quot;Liberation Sans&quot;, sans-serif" font-size="7.2" font-weight="bold" fill="#555" text-anchor="middle" >600</text>
<line x1="642.65" y1="479.5" x2="642.65" y2="482.5" stroke="#808080" stroke-width="1" />
<text x="642.65" y="491" font-family="&quot;Liberation Sans&quot;, sans-serif" font-size="7.2" font-weight="bold" fill="#555" text-anchor="middle" >650</text>
<line x1="675.9" y1="479.5" x2="675.9" y2="482.5" stroke="#808080" stroke-width="1" />
<text x="675.9" y="491" font-family="&quot;Liberation Sans&quot;, sans-serif" font-size="7.2" font-weight="bold" fill="#555" text-anchor="middle" >700</text>
<line x1="410.5" y1="284.3" x2="436.4" y2="284.3" stroke="#f03030" stroke-width="0.9" stroke-dasharray="1.5,1.5"/>
<line x1="436.4" y1="284.3" x2="436.4" y2="479" stroke="#f03030" stroke-width="0.9" stroke-dasharray="1.5,1.5"/>
<line x1="410.5" y1="477.3" x2="677" y2="477.3" stroke="#f03030" stroke-width="0.9" stroke-dasharray="1.5,1.5"/>
<polyline points="410,328.4 416.65,322.3 423.31,319.7 429.96,299.7 436.62,284.3 443.27,284.6 449.93,304.6 456.58,338.5 463.24,379 469.89,410.2 476.55,426.4 483.2,434.8 489.86,440 496.51,443.5 503.17,446.5 509.82,448.9 516.48,451.6 523.13,453.8 529.79,455.7 536.45,457 543.1,458.6 549.75,460.2 556.41,461.9 563.07,463.2 569.72,464.6 576.38,465.6 583.03,466.5 589.68,467.5 596.34,468.6 603,469.7 609.65,470.5 616.31,471.3 622.96,471.9 629.62,472.7 636.27,473.5 642.92,474.3 649.58,474.8 656.24,475.6 662.89,476.2 669.55,476.4 676.2,477" fill="none" stroke="#888" stroke-width="0.7" stroke-dasharray="1.5,1.5"/>
<g fill="#ee1111"><circle cx="410" cy="328.4" r="1.5"/><circle cx="416.65" cy="322.3" r="1.5"/><circle cx="423.31" cy="319.7" r="1.5"/><circle cx="429.96" cy="299.7" r="1.5"/><circle cx="436.62" cy="284.3" r="1.5"/><circle cx="443.27" cy="284.6" r="1.5"/><circle cx="449.93" cy="304.6" r="1.5"/><circle cx="456.58" cy="338.5" r="1.5"/><circle cx="463.24" cy="379" r="1.5"/><circle cx="469.89" cy="410.2" r="1.5"/><circle cx="476.55" cy="426.4" r="1.5"/><circle cx="483.2" cy="434.8" r="1.5"/><circle cx="489.86" cy="440" r="1.5"/><circle cx="496.51" cy="443.5" r="1.5"/><circle cx="503.17" cy="446.5" r="1.5"/><circle cx="509.82" cy="448.9" r="1.5"/><circle cx="516.48" cy="451.6" r="1.5"/><circle cx="523.13" cy="453.8" r="1.5"/><circle cx="529.79" cy="455.7" r="1.5"/><circle cx="536.45" cy="457" r="1.5"/><circle cx="543.1" cy="458.6" r="1.5"/><circle cx="549.75" cy="460.2" r="1.5"/><circle cx="556.41" cy="461.9" r="1.5"/><circle cx="563.07" cy="463.2" r="1.5"/><circle cx="569.72" cy="464.6" r="1.5"/><circle cx="576.38" cy="465.6" r="1.5"/><circle cx="583.03" cy="466.5" r="1.5"/><circle cx="589.68" cy="467.5" r="1.5"/><circle cx="596.34" cy="468.6" r="1.5"/><circle cx="603" cy="469.7" r="1.5"/><circle cx="609.65" cy="470.5" r="1.5"/><circle cx="616.31" cy="471.3" r="1.5"/><circle cx="622.96" cy="471.9" r="1.5"/><circle cx="629.62" cy="472.7" r="1.5"/><circle cx="636.27" cy="473.5" r="1.5"/><circle cx="642.92" cy="474.3" r="1.5"/><circle cx="649.58" cy="474.8" r="1.5"/><circle cx="656.24" cy="475.6" r="1.5"/><circle cx="662.89" cy="476.2" r="1.5"/><circle cx="669.55" cy="476.4" r="1.5"/><circle cx="676.2" cy="477" r="1.5"/></g>
<text x="427.7" y="279.4" font-family="&quot;Liberation Serif&quot;, serif" font-size="10" font-weight="normal" fill="#222" text-anchor="start" textLength="29.3" lengthAdjust="spacingAndGlyphs" >340 nm</text>
<text x="608.8" y="287.2" font-family="&quot;Liberation Serif&quot;, serif" font-size="12.6" font-weight="normal" fill="#333" text-anchor="start" textLength="51.2" lengthAdjust="spacingAndGlyphs" >PIP-MSNs</text>
<text x="503.6" y="508.8" font-family="&quot;Liberation Serif&quot;, serif" font-size="13.4" font-weight="normal" fill="#333" text-anchor="start" textLength="83.8" lengthAdjust="spacingAndGlyphs" >Wavelength (nm)</text>
<text transform="translate(377.6,394.3) rotate(-90)" font-family="&quot;Liberation Serif&quot;, serif" font-size="13.2" font-weight="normal" fill="#333" text-anchor="middle" textLength="89.8" lengthAdjust="spacingAndGlyphs">Absorbance (a. u.)</text>
<text x="7" y="566.8" font-family="&quot;Liberation Serif&quot;, serif" font-size="11.5" font-weight="normal" fill="#333" text-anchor="start" textLength="13.7" lengthAdjust="spacingAndGlyphs" >(e)</text>
<rect x="48" y="573.4" width="255.5" height="169.7" fill="none" stroke="#3a3a3a" stroke-width="1.2"/>
<line x1="43.6" y1="743.1" x2="48" y2="743.1" stroke="#3a3a3a" stroke-width="1.2" />
<text x="41.2" y="744.8" font-family="&quot;Liberation Sans&quot;, sans-serif" font-size="6.8" font-weight="bold" fill="#333" text-anchor="end" >0</text>
<line x1="43.6" y1="709.16" x2="48" y2="709.16" stroke="#3a3a3a" stroke-width="1.2" />
<text x="41.2" y="710.86" font-family="&quot;Liberation Sans&quot;, sans-serif" font-size="6.8" font-weight="bold" fill="#333" text-anchor="end" >20</text>
<line x1="43.6" y1="675.22" x2="48" y2="675.22" stroke="#3a3a3a" stroke-width="1.2" />
<text x="41.2" y="676.92" font-family="&quot;Liberation Sans&quot;, sans-serif" font-size="6.8" font-weight="bold" fill="#333" text-anchor="end" >40</text>
<line x1="43.6" y1="641.28" x2="48" y2="641.28" stroke="#3a3a3a" stroke-width="1.2" />
<text x="41.2" y="642.98" font-family="&quot;Liberation Sans&quot;, sans-serif" font-size="6.8" font-weight="bold" fill="#333" text-anchor="end" >60</text>
<line x1="43.6" y1="607.34" x2="48" y2="607.34" stroke="#3a3a3a" stroke-width="1.2" />
<text x="41.2" y="609.04" font-family="&quot;Liberation Sans&quot;, sans-serif" font-size="6.8" font-weight="bold" fill="#333" text-anchor="end" >80</text>
<line x1="43.6" y1="573.4" x2="48" y2="573.4" stroke="#3a3a3a" stroke-width="1.2" />
<text x="41.2" y="575.1" font-family="&quot;Liberation Sans&quot;, sans-serif" font-size="6.8" font-weight="bold" fill="#333" text-anchor="end" >100</text>
<line x1="48" y1="743.1" x2="48" y2="747.4" stroke="#3a3a3a" stroke-width="1.2" />
<text x="48" y="757.2" font-family="&quot;Liberation Sans&quot;, sans-serif" font-size="6.6" font-weight="bold" fill="#333" text-anchor="middle" >0</text>
<line x1="99.1" y1="743.1" x2="99.1" y2="747.4" stroke="#3a3a3a" stroke-width="1.2" />
<text x="99.1" y="757.2" font-family="&quot;Liberation Sans&quot;, sans-serif" font-size="6.6" font-weight="bold" fill="#333" text-anchor="middle" >5</text>
<line x1="150.2" y1="743.1" x2="150.2" y2="747.4" stroke="#3a3a3a" stroke-width="1.2" />
<text x="150.2" y="757.2" font-family="&quot;Liberation Sans&quot;, sans-serif" font-size="6.6" font-weight="bold" fill="#333" text-anchor="middle" >10</text>
<line x1="201.3" y1="743.1" x2="201.3" y2="747.4" stroke="#3a3a3a" stroke-width="1.2" />
<text x="201.3" y="757.2" font-family="&quot;Liberation Sans&quot;, sans-serif" font-size="6.6" font-weight="bold" fill="#333" text-anchor="middle" >15</text>
<line x1="252.4" y1="743.1" x2="252.4" y2="747.4" stroke="#3a3a3a" stroke-width="1.2" />
<text x="252.4" y="757.2" font-family="&quot;Liberation Sans&quot;, sans-serif" font-size="6.6" font-weight="bold" fill="#333" text-anchor="middle" >20</text>
<line x1="303.5" y1="743.1" x2="303.5" y2="747.4" stroke="#3a3a3a" stroke-width="1.2" />
<text x="303.5" y="757.2" font-family="&quot;Liberation Sans&quot;, sans-serif" font-size="6.6" font-weight="bold" fill="#333" text-anchor="middle" >25</text>
<text x="151.4" y="773.9" font-family="&quot;Liberation Serif&quot;, serif" font-size="12" font-weight="normal" fill="#333" text-anchor="start" textLength="37.2" lengthAdjust="spacingAndGlyphs" >Time (h)</text>
<text transform="translate(20.4,658.8) rotate(-90)" font-family="&quot;Liberation Serif&quot;, serif" font-size="11.6" font-weight="normal" fill="#333" text-anchor="middle" textLength="106.7" lengthAdjust="spacingAndGlyphs">Cumulative Release (%)</text>
<path d="M48 743.1L58.22 693.89C61.63 687.33 65.03 678.36 68.44 674.2C75.25 665.88 82.07 662.78 88.88 657.06L129.76 639.24 170.64 624.14 252.4 612.09" fill="none" stroke="#c23c40" stroke-width="1.15" stroke-linejoin="round"/>
<path d="M56.72 692.69h3M56.72 695.09h3M58.22 692.69v2.4" stroke="#222" stroke-width="0.9" fill="none"/>
<path d="M66.94 673h3M66.94 675.4h3M68.44 673v2.4" stroke="#222" stroke-width="0.9" fill="none"/>
<path d="M87.38 655.86h3M87.38 658.26h3M88.88 655.86v2.4" stroke="#222" stroke-width="0.9" fill="none"/>
<path d="M128.26 638.04h3M128.26 640.44h3M129.76 638.04v2.4" stroke="#222" stroke-width="0.9" fill="none"/>
<path d="M169.14 622.94h3M169.14 625.34h3M170.64 622.94v2.4" stroke="#222" stroke-width="0.9" fill="none"/>
<path d="M250.9 610.89h3M250.9 613.29h3M252.4 610.89v2.4" stroke="#222" stroke-width="0.9" fill="none"/>
<rect x="47" y="742.1" width="2" height="2" fill="#222"/>
<text x="363.8" y="567" font-family="&quot;Liberation Serif&quot;, serif" font-size="12.8" font-weight="normal" fill="#333" text-anchor="start" >(f)</text>
<rect x="405.1" y="573.5" width="254.4" height="168.6" fill="none" stroke="#3a3a3a" stroke-width="1.2"/>
<line x1="400.6" y1="742.1" x2="405.1" y2="742.1" stroke="#3a3a3a" stroke-width="1.2" />
<text x="398.6" y="743.8" font-family="&quot;Liberation Sans&quot;, sans-serif" font-size="6.8" font-weight="bold" fill="#333" text-anchor="end" >0</text>
<line x1="400.6" y1="708.38" x2="405.1" y2="708.38" stroke="#3a3a3a" stroke-width="1.2" />
<text x="398.6" y="710.08" font-family="&quot;Liberation Sans&quot;, sans-serif" font-size="6.8" font-weight="bold" fill="#333" text-anchor="end" >20</text>
<line x1="400.6" y1="674.66" x2="405.1" y2="674.66" stroke="#3a3a3a" stroke-width="1.2" />
<text x="398.6" y="676.36" font-family="&quot;Liberation Sans&quot;, sans-serif" font-size="6.8" font-weight="bold" fill="#333" text-anchor="end" >40</text>
<line x1="400.6" y1="640.94" x2="405.1" y2="640.94" stroke="#3a3a3a" stroke-width="1.2" />
<text x="398.6" y="642.64" font-family="&quot;Liberation Sans&quot;, sans-serif" font-size="6.8" font-weight="bold" fill="#333" text-anchor="end" >60</text>
<line x1="400.6" y1="607.22" x2="405.1" y2="607.22" stroke="#3a3a3a" stroke-width="1.2" />
<text x="398.6" y="608.92" font-family="&quot;Liberation Sans&quot;, sans-serif" font-size="6.8" font-weight="bold" fill="#333" text-anchor="end" >80</text>
<line x1="400.6" y1="573.5" x2="405.1" y2="573.5" stroke="#3a3a3a" stroke-width="1.2" />
<text x="398.6" y="575.2" font-family="&quot;Liberation Sans&quot;, sans-serif" font-size="6.8" font-weight="bold" fill="#333" text-anchor="end" >100</text>
<line x1="405.1" y1="742.1" x2="405.1" y2="746.5" stroke="#3a3a3a" stroke-width="1.2" />
<text x="405.1" y="756.2" font-family="&quot;Liberation Sans&quot;, sans-serif" font-size="6.6" font-weight="bold" fill="#333" text-anchor="middle" >0</text>
<line x1="468.7" y1="742.1" x2="468.7" y2="746.5" stroke="#3a3a3a" stroke-width="1.2" />
<text x="468.7" y="756.2" font-family="&quot;Liberation Sans&quot;, sans-serif" font-size="6.6" font-weight="bold" fill="#333" text-anchor="middle" >20</text>
<line x1="532.3" y1="742.1" x2="532.3" y2="746.5" stroke="#3a3a3a" stroke-width="1.2" />
<text x="532.3" y="756.2" font-family="&quot;Liberation Sans&quot;, sans-serif" font-size="6.6" font-weight="bold" fill="#333" text-anchor="middle" >40</text>
<line x1="595.9" y1="742.1" x2="595.9" y2="746.5" stroke="#3a3a3a" stroke-width="1.2" />
<text x="595.9" y="756.2" font-family="&quot;Liberation Sans&quot;, sans-serif" font-size="6.6" font-weight="bold" fill="#333" text-anchor="middle" >60</text>
<line x1="659.5" y1="742.1" x2="659.5" y2="746.5" stroke="#3a3a3a" stroke-width="1.2" />
<text x="659.5" y="756.2" font-family="&quot;Liberation Sans&quot;, sans-serif" font-size="6.6" font-weight="bold" fill="#333" text-anchor="middle" >80</text>
<text x="509.6" y="770.8" font-family="&quot;Liberation Serif&quot;, serif" font-size="12" font-weight="normal" fill="#333" text-anchor="start" textLength="37.2" lengthAdjust="spacingAndGlyphs" >Time (h)</text>
<text transform="translate(378.8,658) rotate(-90)" font-family="&quot;Liberation Serif&quot;, serif" font-size="12.2" font-weight="normal" fill="#333" text-anchor="middle" textLength="109.5" lengthAdjust="spacingAndGlyphs">Cumulative Release (%)</text>
<path d="M405.1 742.1C406.16 725.8 407.22 702.75 408.28 693.21C409.34 683.67 410.4 677.13 411.46 672.97C413.58 664.66 415.7 660.12 417.82 656.11C422.06 648.1 426.3 644.31 430.54 638.41L443.26 623.74 481.42 611.94 557.74 611.94 634.06 611.94" fill="none" stroke="#c23c40" stroke-width="1.15" stroke-linejoin="round"/>
<path d="M406.78 692.01h3M406.78 694.41h3M408.28 692.01v2.4" stroke="#222" stroke-width="0.9" fill="none"/>
<path d="M409.96 671.77h3M409.96 674.17h3M411.46 671.77v2.4" stroke="#222" stroke-width="0.9" fill="none"/>
<path d="M416.32 654.91h3M416.32 657.31h3M417.82 654.91v2.4" stroke="#222" stroke-width="0.9" fill="none"/>
<path d="M429.04 637.21h3M429.04 639.61h3M430.54 637.21v2.4" stroke="#222" stroke-width="0.9" fill="none"/>
<path d="M441.76 622.54h3M441.76 624.94h3M443.26 622.54v2.4" stroke="#222" stroke-width="0.9" fill="none"/>
<path d="M479.92 610.74h3M479.92 613.14h3M481.42 610.74v2.4" stroke="#222" stroke-width="0.9" fill="none"/>
<path d="M556.24 610.74h3M556.24 613.14h3M557.74 610.74v2.4" stroke="#222" stroke-width="0.9" fill="none"/>
<path d="M632.56 610.74h3M632.56 613.14h3M634.06 610.74v2.4" stroke="#222" stroke-width="0.9" fill="none"/>
<rect x="404.1" y="741.1" width="2" height="2" fill="#222"/>
</svg>
</body></html>
